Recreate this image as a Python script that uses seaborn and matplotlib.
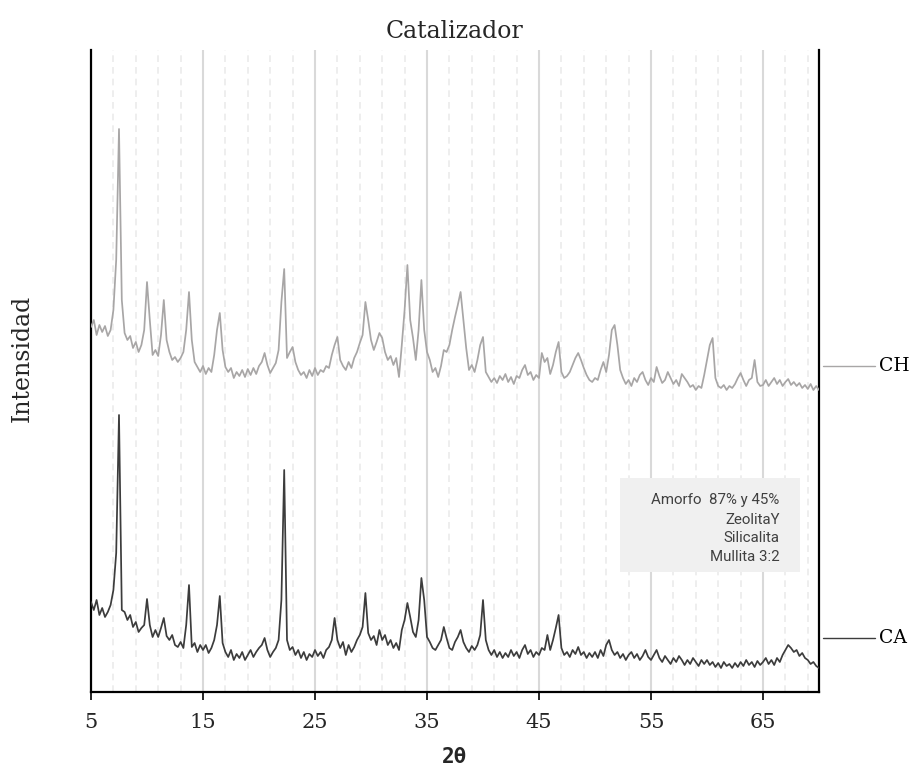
import numpy as np
import pandas as pd
import matplotlib
matplotlib.use("Agg")
import matplotlib.pyplot as plt
import seaborn as sns
from matplotlib.patches import Rectangle

# ---------------- data ----------------
scan_start, scan_stop, scan_step = 5.0, 70.0, 0.25   # 2θ scan (degrees)

# intensity (a.u.), one row per 5 degrees of 2θ
intensity_CH = [
    93, 100, 85, 95, 88, 94, 84, 90, 110, 160, 291, 120, 87, 80, 84, 72, 78, 68, 75, 90,
    138, 100, 65, 70, 64, 85, 120, 80, 68, 60, 63, 58, 62, 68, 90, 128, 80, 58, 53, 48,
    54, 46, 52, 48, 65, 90, 107, 70, 53, 48, 52, 42, 48, 44, 50, 43, 51, 45, 52, 46,
    54, 58, 67, 55, 47, 52, 57, 70, 118, 151, 62, 68, 73, 58, 50, 45, 48, 42, 50, 44,
    52, 45, 50, 48, 54, 52, 65, 75, 83, 60, 54, 50, 58, 52, 62, 68, 77, 85, 118, 100,
    80, 70, 78, 87, 82, 68, 60, 64, 55, 62, 43, 75, 110, 155, 100, 82, 60, 90, 140, 90,
    68, 60, 48, 52, 43, 54, 70, 68, 75, 90, 103, 115, 128, 100, 72, 50, 55, 48, 60, 75,
    83, 48, 43, 38, 42, 37, 44, 40, 46, 38, 43, 36, 44, 42, 50, 55, 45, 48, 40, 45,
    42, 67, 58, 62, 46, 55, 68, 78, 48, 42, 44, 48, 55, 62, 67, 60, 52, 45, 40, 38,
    42, 40, 50, 58, 48, 65, 90, 95, 75, 50, 42, 36, 40, 34, 42, 38, 45, 48, 40, 35,
    42, 38, 53, 44, 37, 40, 48, 42, 36, 40, 34, 46, 42, 38, 33, 35, 30, 34, 32, 45,
    60, 75, 82, 42, 34, 32, 35, 30, 34, 32, 36, 42, 47, 40, 34, 40, 42, 60, 38, 34,
    35, 40, 34, 38, 42, 36, 40, 34, 38, 41, 35, 38, 34, 37, 32, 35, 31, 36, 30, 34,
    30,
]

intensity_CA = [
    98, 90, 100, 85, 92, 83, 88, 95, 110, 147, 285, 90, 88, 80, 85, 73, 78, 68, 72, 75,
    101, 75, 63, 70, 63, 72, 82, 64, 60, 65, 55, 53, 58, 52, 75, 115, 53, 57, 48, 55,
    50, 55, 47, 52, 60, 75, 104, 57, 48, 43, 50, 40, 46, 42, 48, 40, 45, 50, 43, 48,
    52, 55, 62, 50, 43, 48, 52, 60, 100, 230, 60, 50, 53, 45, 50, 42, 48, 40, 46, 43,
    50, 44, 48, 42, 50, 53, 60, 82, 60, 52, 58, 45, 55, 48, 53, 60, 65, 73, 107, 67,
    60, 64, 55, 70, 60, 65, 55, 60, 52, 57, 50, 70, 80, 97, 83, 68, 63, 80, 122, 100,
    63, 58, 52, 50, 55, 60, 73, 62, 52, 50, 58, 63, 70, 58, 52, 48, 54, 50, 55, 65,
    100, 60, 50, 45, 50, 43, 48, 42, 47, 43, 50, 44, 48, 42, 50, 55, 46, 50, 43, 48,
    45, 52, 50, 65, 50, 60, 72, 85, 52, 45, 48, 43, 50, 46, 53, 45, 48, 42, 47, 43,
    48, 42, 50, 44, 55, 60, 50, 45, 48, 42, 46, 40, 45, 48, 42, 46, 40, 44, 50, 43,
    40, 45, 50, 42, 38, 44, 40, 36, 42, 38, 44, 40, 35, 40, 36, 42, 38, 34, 40, 36,
    40, 35, 38, 33, 37, 32, 38, 34, 36, 32, 37, 33, 38, 34, 40, 35, 38, 33, 39, 35,
    38, 42, 36, 40, 35, 42, 38, 45, 50, 55, 52, 48, 50, 44, 47, 42, 40, 36, 38, 34,
    32,
]

samples = ["CH", "CA"]
sample_colors = {"CH": "#a8a6a6", "CA": "#3c3c3c"}
stack_offset = {"CH": 280, "CA": 0}

phases = ["Amorfo  87% y 45%", "ZeolitaY", "Silicalita", "Mullita 3:2"]
x_ticks = [5, 15, 25, 35, 45, 55, 65]

# ---------------- build table ----------------
two_theta = np.arange(scan_start, scan_stop + scan_step / 2, scan_step)
assert len(two_theta) == len(intensity_CH) == len(intensity_CA)
frames = []
for name, vals in (("CH", intensity_CH), ("CA", intensity_CA)):
    frames.append(pd.DataFrame({
        "two_theta": two_theta,
        "intensity": np.asarray(vals, float) + stack_offset[name],
        "sample": name,
    }))
df = pd.concat(frames, ignore_index=True)

# ---------------- plot ----------------
sns.set_style("white")
plt.rcParams["font.family"] = ["DejaVu Serif"]

fig = plt.figure(figsize=(9.12, 7.68), dpi=100)
ax = fig.add_axes([91 / 912, 76 / 768, 728 / 912, 642 / 768])

sns.lineplot(data=df, x="two_theta", y="intensity", hue="sample",
             palette=sample_colors, hue_order=samples, estimator=None,
             sort=False, linewidth=1.25, legend=False, ax=ax, zorder=3)

ax.set_xlim(5, 70)
ax.set_ylim(8, 650)
ax.set_xticks(x_ticks)
ax.set_xticks([v for v in range(7, 70, 2) if v not in x_ticks], minor=True)
ax.set_yticks([])
ax.grid(True, which="major", axis="x", color="#d9d9d9", linewidth=1.5, linestyle="-")
ax.grid(True, which="minor", axis="x", color="#ebebeb", linewidth=1.2, linestyle=(0, (4, 3)))
ax.set_axisbelow(True)

for side in ("left", "bottom", "right"):
    ax.spines[side].set_visible(True)
    ax.spines[side].set_color("black")
    ax.spines[side].set_linewidth(1.6)
ax.spines["top"].set_visible(False)

ax.tick_params(axis="x", which="major", direction="out", length=6, width=1.2,
               color="black", labelsize=15, pad=9, bottom=True)
ax.tick_params(axis="x", which="minor", length=0)

ax.set_title("Catalizador", fontsize=17, pad=9)
ax.set_xlabel("2θ", fontsize=15, fontweight="bold", family=["DejaVu Sans Mono"])
ax.xaxis.set_label_coords(0.5, -0.086)
ax.set_ylabel("Intensidad", fontsize=17)
ax.yaxis.set_label_coords(-0.078, 0.52)

# phase box
ax.add_patch(Rectangle((0.727, 0.187), 0.247, 0.146, transform=ax.transAxes,
                       facecolor="#f0f0f0", edgecolor="none", zorder=4))
for label, yfrac in zip(phases, [0.299, 0.268, 0.240, 0.210]):
    ax.text(0.946, yfrac, label, transform=ax.transAxes, ha="right", va="center",
            fontsize=10.8, color="#404040", family=["Roboto"], zorder=5)

# series labels on the right
for name, yfrac in (("CH", 0.508), ("CA", 0.084)):
    ax.plot([1.0055, 1.077], [yfrac, yfrac], transform=ax.transAxes,
            color=sample_colors[name], linewidth=1.0, clip_on=False)
    ax.text(1.082, yfrac, name, transform=ax.transAxes, ha="left", va="center",
            fontsize=13.5, color="black")

fig.savefig("out.png", dpi=100)
